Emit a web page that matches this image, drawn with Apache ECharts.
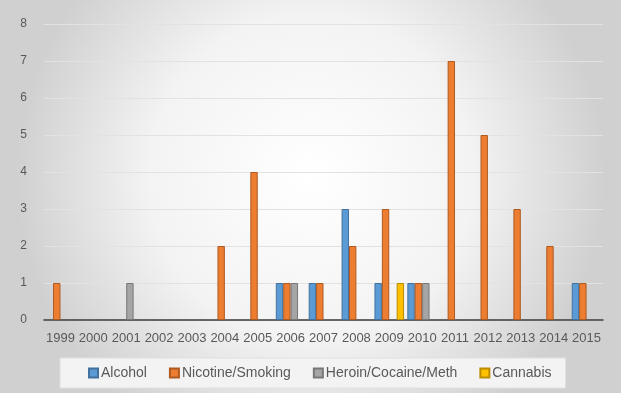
<!DOCTYPE html>
<html>
<head>
<meta charset="utf-8">
<script src="https://cdn.jsdelivr.net/npm/echarts@6/dist/echarts.min.js"></script>
<style>
  html, body { margin: 0; padding: 0; }
  #chart { width: 621px; height: 393px; }
</style>
</head>
<body>
<div id="chart"></div>
<script>
const years = ['1999', '2000', '2001', '2002', '2003', '2004', '2005', '2006', '2007',
  '2008', '2009', '2010', '2011', '2012', '2013', '2014', '2015'];

// 各年份数量（空值用 null）
const alcohol = [null, null, null, null, null, null, null, 1, 1, 3, 1, 1, null, null, null, null, 1];
const nicotine = [1, null, null, null, null, 2, 4, 1, 1, 2, 3, 1, 7, 5, 3, 2, 1];
const heroin = [null, null, 1, null, null, null, null, 1, null, null, null, 1, null, null, null, null, null];
const cannabis = [null, null, null, null, null, null, null, null, null, null, 1, null, null, null, null, null, null];

const chart = echarts.init(document.getElementById('chart'));

const makeSeries = (name, data, color, border) => ({
  name,
  type: 'bar',
  data,
  barGap: '0%',
  barCategoryGap: '10%',
  itemStyle: { color, borderColor: border, borderWidth: 1 }
});

const option = {
  backgroundColor: new echarts.graphic.RadialGradient(0.5, 0.45, 0.75, [
    { offset: 0, color: '#ffffff' },
    { offset: 0.55, color: '#f3f3f3' },
    { offset: 1, color: '#d0d0d0' }
  ]),
  textStyle: { fontFamily: 'Liberation Sans, Arial, sans-serif' },
  grid: { left: 44, right: 18, top: 24, bottom: 73 },
  legend: {
    left: 60,
    top: 358,
    padding: [8, 14, 8, 28],
    itemGap: 22,
    itemWidth: 9,
    itemHeight: 9,
    icon: 'rect',
    backgroundColor: '#f3f3f3',
    borderColor: '#e0e0e0',
    borderWidth: 1,
    textStyle: { color: '#595959', fontSize: 14, padding: [0, 0, 0, -2] },
    data: ['Alcohol', 'Nicotine/Smoking', 'Heroin/Cocaine/Meth', 'Cannabis']
  },
  xAxis: {
    type: 'category',
    data: years,
    axisLine: { lineStyle: { color: '#3a3a3a', width: 1.5 } },
    axisTick: { show: false },
    axisLabel: { color: '#595959', fontSize: 13, margin: 12, interval: 0 }
  },
  yAxis: {
    type: 'value',
    min: 0,
    max: 8,
    interval: 1,
    axisLine: { show: false },
    axisTick: { show: false },
    axisLabel: { color: '#595959', fontSize: 12, margin: 17 },
    splitLine: { lineStyle: { color: '#e2e2e2', width: 1 } }
  },
  series: [
    makeSeries('Alcohol', alcohol, '#5b9bd5', '#41719c'),
    makeSeries('Nicotine/Smoking', nicotine, '#ed7d31', '#ae5a21'),
    makeSeries('Heroin/Cocaine/Meth', heroin, '#a5a5a5', '#787878'),
    makeSeries('Cannabis', cannabis, '#ffc000', '#bc8c00')
  ]
};

chart.setOption(option);
</script>
</body>
</html>
